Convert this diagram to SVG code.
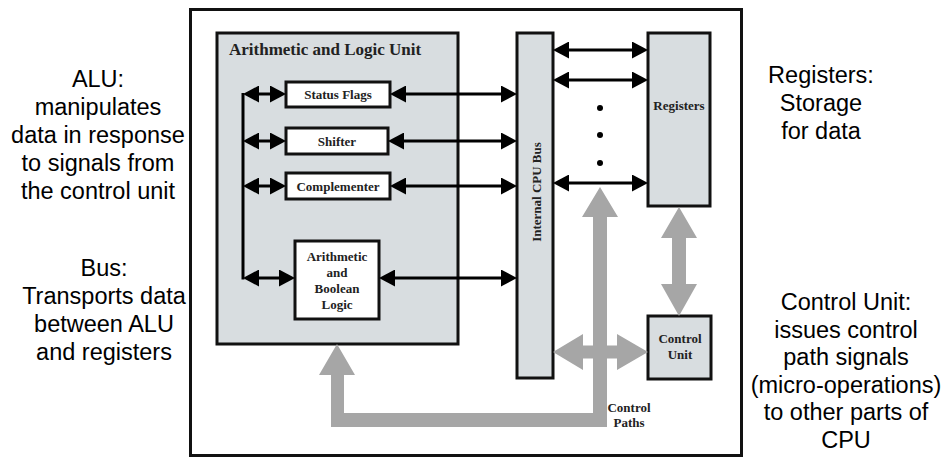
<svg xmlns="http://www.w3.org/2000/svg" width="949" height="458" viewBox="0 0 949 458">
  <defs>
    <style>
      .frame { fill: #ffffff; stroke: #111111; stroke-width: 3; }
      .unit { fill: #d8dde0; stroke: #111111; stroke-width: 3; }
      .box { fill: #ffffff; stroke: #111111; stroke-width: 3; }
      .lbl { font-family: "Liberation Serif", "Times New Roman", serif; font-weight: bold; font-size: 13px; fill: #222222; text-anchor: middle; }
      .title { font-family: "Liberation Serif", "Times New Roman", serif; font-weight: bold; font-size: 17px; fill: #222222; }
      .note { font-family: "Liberation Sans", Arial, sans-serif; font-size: 23.5px; fill: #000000; text-anchor: middle; }
      .data { fill: none; stroke: #000000; stroke-width: 3; marker-start: url(#head); marker-end: url(#head); }
      .ctl { fill: #a6a6a6; stroke: none; }
    </style>
    <marker id="head" markerUnits="userSpaceOnUse" markerWidth="16" markerHeight="17" viewBox="0 0 16 17" refX="12" refY="8.5" orient="auto-start-reverse">
      <path d="M0,0 L16,8.5 L0,17 Z" fill="#000000"/>
    </marker>
  </defs>

  <!-- CPU frame -->
  <rect class="frame" x="190.5" y="9.5" width="551" height="446"/>

  <!-- Arithmetic and Logic Unit -->
  <g id="alu">
    <rect class="unit" x="217" y="33" width="241" height="311"/>
    <text class="title" x="229" y="55">Arithmetic and Logic Unit</text>
  </g>

  <g id="status-flags">
    <rect class="box" x="286" y="82" width="104" height="25"/>
    <text class="lbl" x="338" y="99">Status Flags</text>
  </g>

  <g id="shifter">
    <rect class="box" x="286" y="128" width="102" height="26"/>
    <text class="lbl" x="337" y="146">Shifter</text>
  </g>

  <g id="complementer">
    <rect class="box" x="286" y="173" width="104" height="26"/>
    <text class="lbl" x="338" y="191">Complementer</text>
  </g>

  <g id="arith-boolean">
    <rect class="box" x="295" y="241" width="84" height="78"/>
    <text class="lbl" x="337" y="261">Arithmetic</text>
    <text class="lbl" x="337" y="277">and</text>
    <text class="lbl" x="337" y="293">Boolean</text>
    <text class="lbl" x="337" y="309">Logic</text>
  </g>

  <!-- Internal CPU bus -->
  <g id="cpu-bus">
    <rect class="unit" x="517" y="33" width="36" height="345"/>
    <text class="lbl" transform="translate(541,192) rotate(-90)">Internal CPU Bus</text>
  </g>

  <g id="registers">
    <rect class="unit" x="648" y="33" width="62" height="173"/>
    <text class="lbl" x="679" y="110">Registers</text>
  </g>

  <g id="control-unit">
    <rect class="unit" x="648" y="316" width="63" height="63"/>
    <text class="lbl" x="680" y="343">Control</text>
    <text class="lbl" x="680" y="359">Unit</text>
  </g>

  <!-- Connectors -->
  <g id="connectors">
    <!-- ALU internal data paths -->
    <line x1="243" y1="93" x2="243" y2="279.5" stroke="#000000" stroke-width="3"/>
    <line class="data" x1="247" y1="94" x2="282" y2="94"/>
    <line class="data" x1="247" y1="141" x2="282" y2="141"/>
    <line class="data" x1="247" y1="186" x2="282" y2="186"/>
    <line class="data" x1="247" y1="278" x2="291" y2="278"/>
    <!-- ALU to bus -->
    <line class="data" x1="394" y1="94" x2="513" y2="94"/>
    <line class="data" x1="392" y1="141" x2="513" y2="141"/>
    <line class="data" x1="394" y1="186" x2="513" y2="186"/>
    <line class="data" x1="383" y1="278" x2="513" y2="278"/>
    <!-- bus to registers -->
    <line class="data" x1="557" y1="50" x2="644" y2="50"/>
    <line class="data" x1="557" y1="80" x2="644" y2="80"/>
    <line class="data" x1="557" y1="183" x2="644" y2="183"/>
    <circle cx="600" cy="108" r="3"/>
    <circle cx="600" cy="135" r="3"/>
    <circle cx="600" cy="163" r="3"/>

    <!-- control paths -->
    <polygon class="ctl" points="679,207 697,238 686,238 686,284 697,284 679,316 661,284 672,284 672,238 661,238"/>
    <polygon class="ctl" points="553,352 583,334 583,345.5 617,345.5 617,334 648,352 617,370 617,358.5 583,358.5 583,370"/>
    <polygon class="ctl" points="600,187 618,217 607,217 607,427 331,427 331,375 319,375 337,344 355,375 344,375 344,413 593,413 593,217 582,217"/>
    <text class="lbl" x="629" y="412">Control</text>
    <text class="lbl" x="629" y="427">Paths</text>
  </g>

  <!-- Annotations -->
  <g id="notes">
    <text class="note" x="98" y="87">ALU:</text>
    <text class="note" x="98" y="115">manipulates</text>
    <text class="note" x="98" y="143">data in response</text>
    <text class="note" x="98" y="171">to signals from</text>
    <text class="note" x="98" y="199">the control unit</text>

    <text class="note" x="104" y="276">Bus:</text>
    <text class="note" x="104" y="304">Transports data</text>
    <text class="note" x="104" y="332">between ALU</text>
    <text class="note" x="104" y="360">and registers</text>

    <text class="note" x="821" y="83">Registers:</text>
    <text class="note" x="821" y="111">Storage</text>
    <text class="note" x="821" y="139">for data</text>

    <text class="note" x="846" y="310">Control Unit:</text>
    <text class="note" x="846" y="338">issues control</text>
    <text class="note" x="846" y="365">path signals</text>
    <text class="note" x="846" y="393">(micro-operations)</text>
    <text class="note" x="846" y="420">to other parts of</text>
    <text class="note" x="846" y="448">CPU</text>
  </g>
</svg>
